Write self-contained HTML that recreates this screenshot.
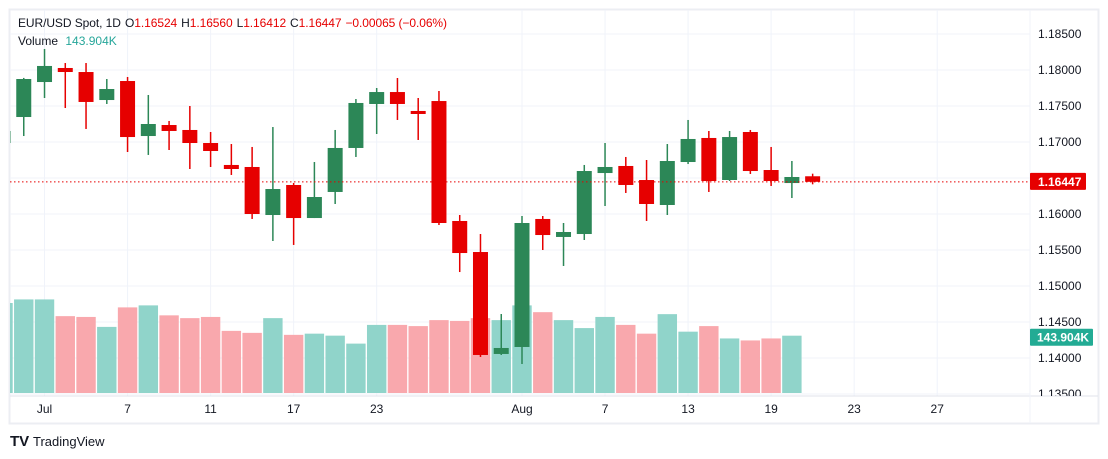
<!DOCTYPE html>
<html><head><meta charset="utf-8"><style>
body{margin:0;background:#fff;font-family:"Liberation Sans",sans-serif;}
svg{display:block}
</style></head><body>
<svg id="chart" width="1108" height="459" xmlns="http://www.w3.org/2000/svg">
<defs><clipPath id="plot"><rect x="10" y="10" width="1020" height="386"/></clipPath>
<clipPath id="axisclip"><rect x="1030" y="10" width="68" height="386"/></clipPath></defs>
<rect x="9.5" y="9.5" width="1089" height="414" fill="#fff" stroke="#eceef3" stroke-width="2"/>
<g id="grid"></g>
<g id="vol" clip-path="url(#plot)"></g>
<g id="candles" clip-path="url(#plot)"></g>
<g id="axis"></g>
<g id="xaxis"></g>
<text x="18" y="27" font-size="12" fill="#131722" textLength="429">EUR/USD Spot, 1D <tspan dx="1">O</tspan><tspan fill="#e60000">1.16524</tspan><tspan dx="4">H</tspan><tspan fill="#e60000">1.16560</tspan><tspan dx="4">L</tspan><tspan fill="#e60000">1.16412</tspan><tspan dx="4">C</tspan><tspan fill="#e60000">1.16447</tspan><tspan dx="4" fill="#e60000">−0.00065 (−0.06%)</tspan></text>
<text x="18" y="45" font-size="12" fill="#131722">Volume <tspan dx="4" fill="#26a69a">143.904K</tspan></text>
<g>
<text x="10" y="446" font-size="15" font-weight="bold" fill="#131722">TV</text>
<text x="33" y="446" font-size="13" fill="#131722">TradingView</text></g>
</svg>
<script>
const dates=["","","Jul","","","","7","","","","11","","","","17","","","","23","","","","","","","Aug","","","","7","","","","13","","","","19","",""];
const opens=[1.16986,1.17347,1.17833,1.18028,1.17972,1.17583,1.17847,1.17083,1.17236,1.17167,1.16986,1.16681,1.16653,1.15986,1.16403,1.15944,1.16306,1.16917,1.17528,1.17694,1.17431,1.17569,1.15903,1.15472,1.14056,1.14153,1.15931,1.15681,1.15722,1.16569,1.16667,1.16472,1.16125,1.16722,1.17056,1.16472,1.17139,1.16611,1.16430,1.16524];
const highs=[1.17153,1.17890,1.18292,1.18097,1.18097,1.17875,1.17903,1.17653,1.17292,1.17500,1.17139,1.16972,1.16931,1.17208,1.16431,1.16722,1.17167,1.17597,1.17750,1.17889,1.17611,1.17708,1.15986,1.15722,1.14611,1.15972,1.15972,1.15875,1.16681,1.16986,1.16792,1.16750,1.16972,1.17306,1.17153,1.17153,1.17167,1.16931,1.16736,1.16560];
const lows=[1.16986,1.17083,1.17611,1.17472,1.17181,1.17528,1.16861,1.16820,1.16889,1.16625,1.16653,1.16542,1.15931,1.15625,1.15570,1.15944,1.16139,1.16792,1.17111,1.17306,1.17028,1.15847,1.15194,1.14014,1.14042,1.13917,1.15500,1.15278,1.15639,1.16111,1.16292,1.15903,1.15986,1.16694,1.16306,1.16458,1.16556,1.16389,1.16222,1.16412];
const closes=[1.17153,1.17875,1.18056,1.17972,1.17556,1.17736,1.17069,1.17250,1.17153,1.16986,1.16875,1.16625,1.16000,1.16347,1.15944,1.16236,1.16917,1.17542,1.17694,1.17528,1.17389,1.15875,1.15458,1.14042,1.14139,1.15875,1.15708,1.15750,1.16597,1.16653,1.16403,1.16139,1.16736,1.17042,1.16458,1.17069,1.16597,1.16458,1.16514,1.16447];
const volumes=[226,235,235,193,191,166,215,220,195,188,191,156,151,188,146,149,144,124,171,171,168,183,181,188,183,220,203,183,163,191,171,149,198,154,168,137,132,137,143.904,null];
const priceTicks=[1.185,1.18,1.175,1.17,1.165,1.16,1.155,1.15,1.145,1.14,1.135];
const futureTicks=["23","27"];
const NS="http://www.w3.org/2000/svg";
const X=i=>3+i*20.76;
const Y=p=>70+(1.18-p)*7200;
const VH=v=>v/2.511;
function mk(tag,attrs,parent){const e=document.createElementNS(NS,tag);for(const k in attrs)e.setAttribute(k,attrs[k]);parent.appendChild(e);return e;}
const grid=document.getElementById('grid'),vol=document.getElementById('vol'),cg=document.getElementById('candles'),ax=document.getElementById('axis'),xa=document.getElementById('xaxis');
const axg=mk('g',{'clip-path':'url(#axisclip)'},ax);
priceTicks.forEach(p=>{
  const l=mk('line',{x1:10,x2:1030,y1:Y(p),y2:Y(p),stroke:'#f0f3fa'},grid);
  
  
  const t=mk('text',{x:1038,y:Y(p)+4,'font-size':12,fill:'#131722'},axg);
  t.textContent=p.toFixed(5);
  
  
});
const allLabels=dates.map((d,i)=>[d,i]).filter(a=>a[0]);
futureTicks.forEach((d,k)=>allLabels.push([d,41+k*4]));
allLabels.forEach(([d,i])=>{
  const l=mk('line',{x1:X(i),x2:X(i),y1:10,y2:396,stroke:'#f0f3fa'},grid);
  
  
  const t=mk('text',{x:X(i),y:413,'font-size':12,fill:'#131722','text-anchor':'middle'},xa);
  t.textContent=d;
  
  
});
mk('line',{x1:10,x2:1098,y1:396,y2:396,stroke:'#e0e3eb'},grid);
mk('line',{x1:1030,x2:1030,y1:10,y2:423,stroke:'#f0f3fa'},grid);
volumes.forEach((v,i)=>{
  if(v==null)return;
  const up=closes[i]>=opens[i];const h=VH(v);
  const r=mk('rect',{x:X(i)-9.7,y:393-h,width:19.4,height:h,fill:up?'#90d4ca':'#f9a8ad'},vol);
  
  
});
opens.forEach((o,i)=>{
  const c=closes[i],up=c>=o,col=up?'#2c8757':'#e60000';
  const g=mk('g',{},cg);
  
  
  mk('line',{x1:X(i),x2:X(i),y1:Y(highs[i]),y2:Y(lows[i]),stroke:col,'stroke-width':1.5},g);
  const top=Y(Math.max(o,c)),bot=Y(Math.min(o,c));
  mk('rect',{x:X(i)-7.5,y:top,width:15,height:Math.max(bot-top,2),fill:col},g);
});
const last=closes[closes.length-1];
const pl=mk('line',{x1:10,x2:1030,y1:Y(last),y2:Y(last),stroke:'#e60000','stroke-dasharray':'1.5 2.5'},cg);


const lb=mk('g',{},ax);


mk('rect',{x:1030,y:Y(last)-9,width:56,height:17,fill:'#e60000',rx:1},lb);
const lt=mk('text',{x:1038,y:Y(last)+4,'font-size':12,'font-weight':'bold',fill:'#fff'},lb);lt.textContent=last.toFixed(5);
const lastVol=volumes[38];
const vb=mk('g',{},ax);


const vy=393-VH(lastVol);
mk('rect',{x:1030,y:vy-7,width:63,height:17,fill:'#22ab94',rx:1},vb);
const vt=mk('text',{x:1037,y:vy+6,'font-size':12,'font-weight':'bold',fill:'#fff'},vb);vt.textContent=lastVol.toFixed(3)+'K';
</script>
</body></html>
